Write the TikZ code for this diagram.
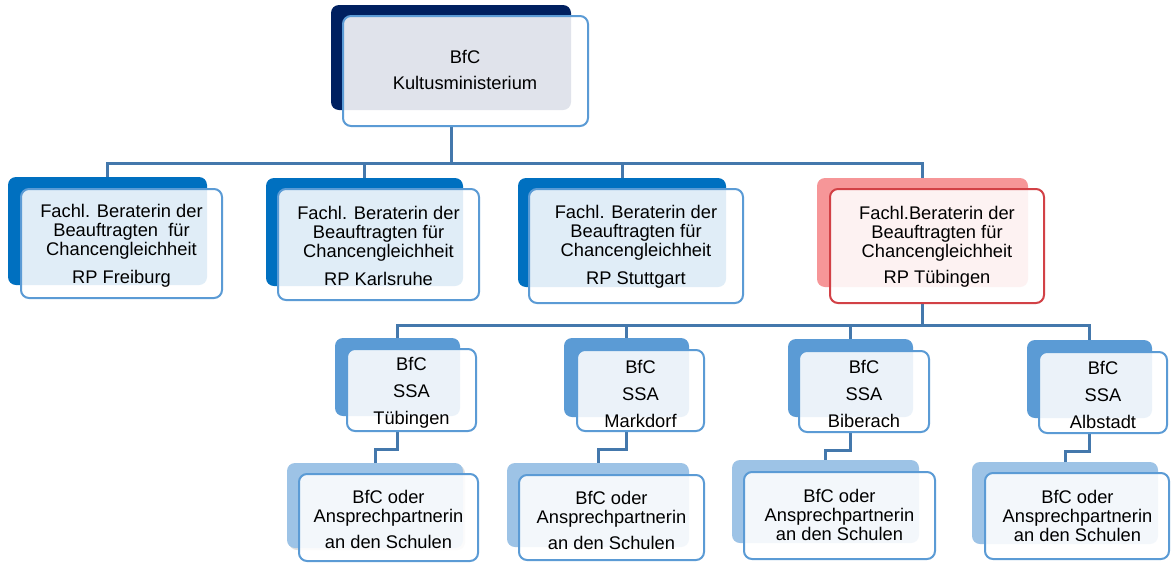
\documentclass[tikz,border=0pt]{standalone}
\usepackage{fontspec}
\setmainfont{Liberation Sans}
\usetikzlibrary{fit,backgrounds,shadows}
\definecolor{navy}{RGB}{0,32,96}
\definecolor{blueA}{RGB}{0,112,192}
\definecolor{blueB}{RGB}{91,155,213}
\definecolor{blueC}{RGB}{157,195,230}
\definecolor{rose}{RGB}{246,150,152}
\definecolor{redline}{RGB}{210,65,70}
\definecolor{frameblue}{RGB}{91,155,213}
\definecolor{connc}{RGB}{68,120,172}
\begin{document}
\begin{tikzpicture}[x=1pt,y=-1pt,
 backbox/.style={rounded corners=8pt, inner sep=0pt, draw=none},
 frontbox/.style={rounded corners=8pt, inner sep=0pt, draw=frameblue, line width=2pt, fill=white, fill opacity=0.88},
 redfront/.style={frontbox, draw=redline},
 conn/.style={draw=connc, line width=3pt},
 txt/.style={align=center, font=\fontsize{18.3}{19}\selectfont, inner sep=0pt, text=black},
]
\useasboundingbox (0,0) rectangle (1171,563);
\coordinate (bus1) at (0,163);
\coordinate (bus2) at (0,325);

% level 1
\node[backbox, fill=navy, fit={(331,5) (571,110)}] (kmB) {};
\node[frontbox, fit={(343,16) (588,126)}] (kmF) {};
\node[txt] (kmT) at (465,70) {BfC\\[7pt]Kultusministerium};

% level 2
\node[backbox, fill=blueA, fit={(8,177) (207,285)}] (frB) {};
\node[frontbox, fit={(21,189) (222,298)}] (frF) {};
\node[txt] (frT) at (121.5,246) {Fachl. Beraterin der\\Beauftragten\ \ für\\Chancengleichheit\\[9pt]RP Freiburg};

\node[backbox, fill=blueA, fit={(266,178) (463,286)}] (kaB) {};
\node[frontbox, fit={(278,189) (479,300)}] (kaF) {};
\node[txt] (kaT) at (378.5,246) {Fachl. Beraterin der\\Beauftragten für\\Chancengleichheit\\[9pt]RP Karlsruhe};

\node[backbox, fill=blueA, fit={(518,178) (726,287)}] (stB) {};
\node[frontbox, fit={(529,189) (743,303)}] (stF) {};
\node[txt] (stT) at (636,247) {Fachl. Beraterin der\\Beauftragten für\\Chancengleichheit\\[9pt]RP Stuttgart};

\node[backbox, fill=rose, fit={(817,178) (1028,287)}] (tuB) {};
\node[redfront, fit={(830,189) (1044,303)}] (tuF) {};
\node[txt] (tuT) at (937,247) {Fachl.Beraterin der\\Beauftragten für\\Chancengleichheit\\[7pt]RP Tübingen};

% level 3
\node[backbox, fill=blueB, fit={(335,338) (460,416)}] (s1B) {};
\node[frontbox, fit={(347,349) (476,431)}] (s1F) {};
\node[txt] (s1T) at (411.5,393) {BfC\\[8pt]SSA\\[8pt]Tübingen};

\node[backbox, fill=blueB, fit={(564,338) (689,417)}] (s2B) {};
\node[frontbox, fit={(577,350) (704,431)}] (s2F) {};
\node[txt] (s2T) at (640.5,394) {BfC\\[8pt]SSA\\[8pt]Markdorf};

\node[backbox, fill=blueB, fit={(788,339) (913,417)}] (s3B) {};
\node[frontbox, fit={(799,351) (929,432)}] (s3F) {};
\node[txt] (s3T) at (864,394) {BfC\\[8pt]SSA\\[8pt]Biberach};

\node[backbox, fill=blueB, fit={(1027,340) (1152,418)}] (s4B) {};
\node[frontbox, fit={(1039,352) (1167,433)}] (s4F) {};
\node[txt] (s4T) at (1103,395) {BfC\\[8pt]SSA\\[8pt]Albstadt};

% level 4
\node[backbox, fill=blueC, drop shadow={shadow xshift=2pt, shadow yshift=-2pt, opacity=0.25, fill=gray}, fit={(287,463) (463,548)}] (k1B) {};
\node[frontbox, fit={(299,474) (478,561)}] (k1F) {};
\node[txt] (k1T) at (388.5,519) {BfC oder\\Ansprechpartnerin\\[7pt]an den Schulen};

\node[backbox, fill=blueC, fit={(507,463) (689,547)}] (k2B) {};
\node[frontbox, fit={(519,475) (704,560)}] (k2F) {};
\node[txt] (k2T) at (611.5,520) {BfC oder\\Ansprechpartnerin\\[7pt]an den Schulen};

\node[backbox, fill=blueC, fit={(732,460) (919,543)}] (k3B) {};
\node[frontbox, fit={(744,472) (935,559)}] (k3F) {};
\node[txt] (k3T) at (839.5,515) {BfC oder\\Ansprechpartnerin\\an den Schulen};

\node[backbox, fill=blueC, fit={(972,462) (1158,544)}] (k4B) {};
\node[frontbox, fit={(985,473) (1169,559)}] (k4F) {};
\node[txt] (k4T) at (1077.5,516) {BfC oder\\Ansprechpartnerin\\an den Schulen};

% connectors
\begin{scope}[on background layer]
\fill[white] (0,0) rectangle (1171,563);
\draw[conn] (kmB.center |- kmF.south) -- (kmB.center |- bus1);
\draw[conn] (frB.north) -- (frB.north |- bus1) -- (tuB.north |- bus1) -- (tuB.north);
\draw[conn] (kaB.north) -- (kaB.north |- bus1);
\draw[conn] (stB.north) -- (stB.north |- bus1);
\draw[conn] (tuB.center |- tuF.south) -- (tuB.center |- bus2);
\draw[conn] (s1B.north) -- (s1B.north |- bus2) -- (s4B.north |- bus2) -- (s4B.north);
\draw[conn] (s2B.north) -- (s2B.north |- bus2);
\draw[conn] (s3B.north) -- (s3B.north |- bus2);
\draw[conn] (s1B.center |- s1F.south) -- ++(0,17) -| (k1B.north);
\draw[conn] (s2B.center |- s2F.south) -- ++(0,17) -| (k2B.north);
\draw[conn] (s3B.center |- s3F.south) -- ++(0,17) -| (k3B.north);
\draw[conn] (s4B.center |- s4F.south) -- ++(0,17) -| (k4B.north);
\end{scope}
\end{tikzpicture}
\end{document}
